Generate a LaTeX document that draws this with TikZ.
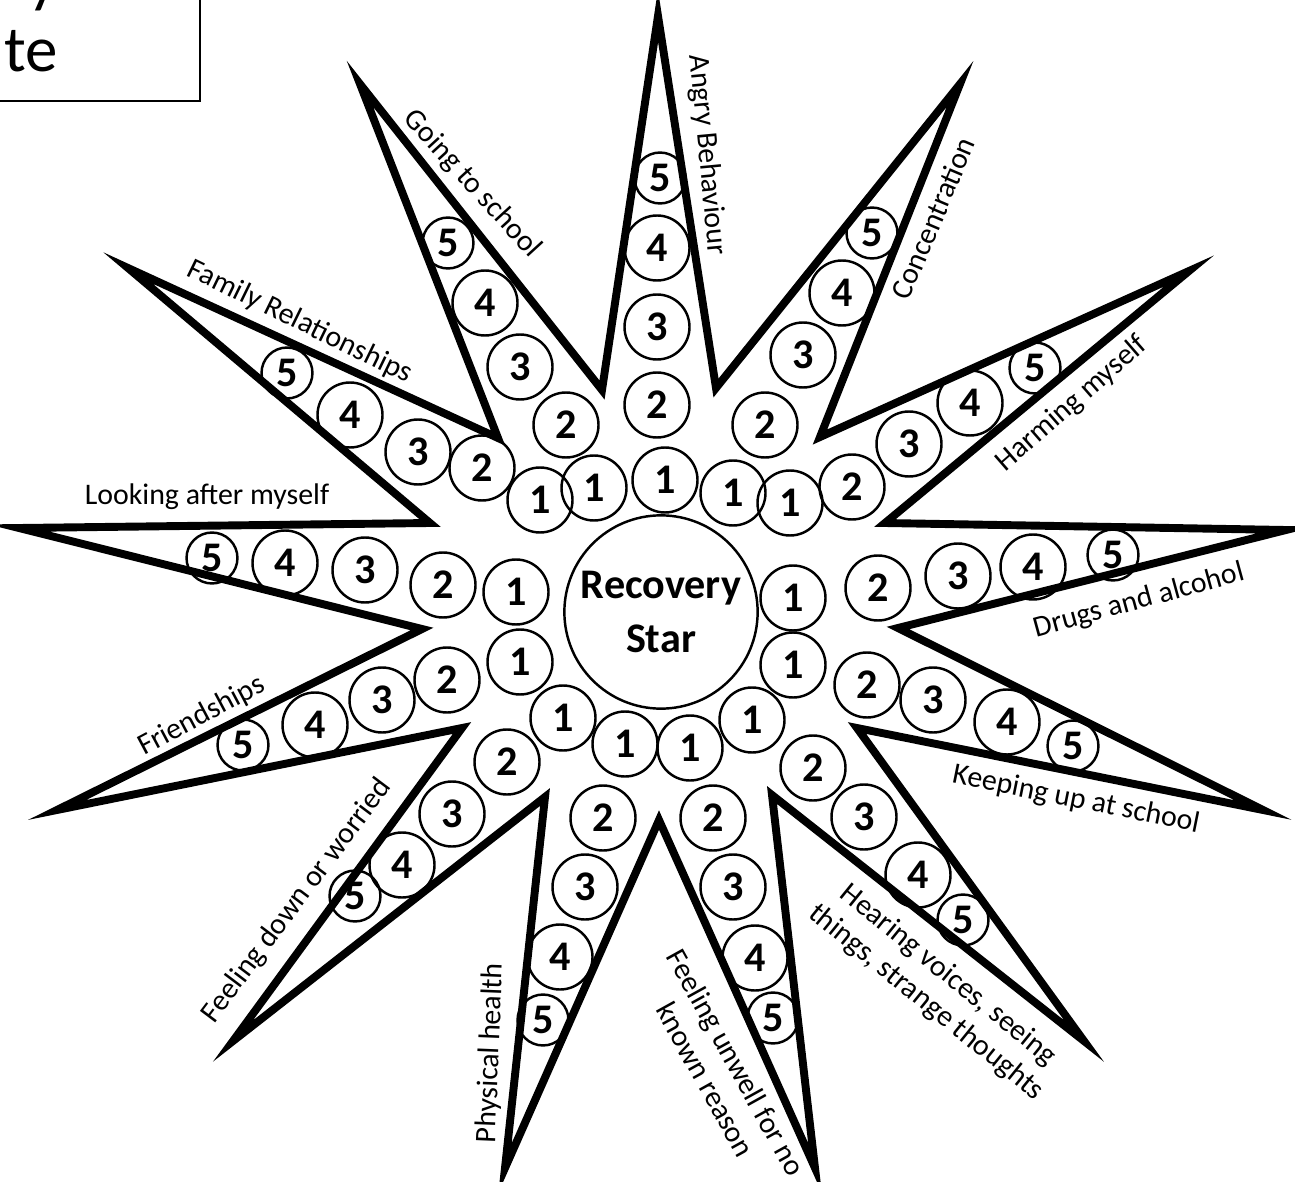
\documentclass[tikz,border=0pt]{standalone}
\usepackage{fontspec}
\setmainfont{Carlito}
\begin{document}
\begin{tikzpicture}[x=0.02cm,y=-0.02cm,
  num/.style={circle,draw,line width=1.4pt,inner sep=0pt,minimum size=37pt,font=\fontsize{24}{24}\selectfont\bfseries},
  numsmall/.style={num,minimum size=29pt},
  lab/.style={font=\fontsize{17}{20}\selectfont,align=center,inner sep=0pt}]
  \useasboundingbox (0,0) rectangle (1295,1182);
  % cut box, top left
  \draw[line width=1pt] (-10,-10) rectangle (200,101);
  \node[font=\fontsize{37}{40}\selectfont,align=right,anchor=south east,inner sep=0pt] (title) at (58,72) {y\\te};
  % the star
  \draw[line width=4.5pt] (658,16) -- (716,388) -- (960,84) -- (820,437) -- (1189,271) -- (885,523)
    -- (1286,530) -- (898,628) -- (1263,810) -- (857,728) -- (1084,1041) -- (772,795)
    -- (815,1168) -- (659,820) -- (505,1168) -- (545,797) -- (233,1041) -- (462,728)
    -- (57,810) -- (422,629) -- (19,528) -- (430,523) -- (128,268) -- (498,438)
    -- (360,84) -- (602,390) -- cycle;
  \node[circle,draw,line width=1.4pt,minimum size=110pt,inner sep=0pt,align=center,
    font=\fontsize{24}{31}\selectfont\bfseries] (centre) at (661,612) {Recovery\\Star};
  % circles, one arm at a time
  \foreach \n/\x/\y in {1/665/480,2/657/405,3/657/327,4/657/248} \node[num] (ang\n) at (\x,\y) {\n};
  \node[numsmall] (ang5) at (660,178) {5};
  \foreach \n/\x/\y in {1/733/493,2/765/425,3/803/355,4/842/293} \node[num] (con\n) at (\x,\y) {\n};
  \node[numsmall] (con5) at (872,233) {5};
  \foreach \n/\x/\y in {1/790/503,2/852/487,3/909/444,4/970/403} \node[num] (har\n) at (\x,\y) {\n};
  \node[numsmall] (har5) at (1035,368) {5};
  \foreach \n/\x/\y in {1/793/598,2/878/588,3/958/576,4/1033/567} \node[num] (dru\n) at (\x,\y) {\n};
  \node[numsmall] (dru5) at (1113,555) {5};
  \foreach \n/\x/\y in {1/793/665,2/867/685,3/933/700,4/1007/722} \node[num] (kee\n) at (\x,\y) {\n};
  \node[numsmall] (kee5) at (1073,746) {5};
  \foreach \n/\x/\y in {1/752/720,2/813/768,3/864/817,4/918/875} \node[num] (hea\n) at (\x,\y) {\n};
  \node[numsmall] (hea5) at (963,920) {5};
  \foreach \n/\x/\y in {1/690/748,2/713/818,3/733/887,4/755/958} \node[num] (unw\n) at (\x,\y) {\n};
  \node[numsmall] (unw5) at (773,1018) {5};
  \foreach \n/\x/\y in {1/625/744,2/603/818,3/585/887,4/560/957} \node[num] (phy\n) at (\x,\y) {\n};
  \node[numsmall] (phy5) at (543,1020) {5};
  \foreach \n/\x/\y in {1/563/718,2/507/762,3/452/814,4/402/865} \node[num] (dow\n) at (\x,\y) {\n};
  \node[numsmall] (dow5) at (355,896) {5};
  \foreach \n/\x/\y in {1/520/662,2/447/680,3/382/700,4/315/725} \node[num] (fri\n) at (\x,\y) {\n};
  \node[numsmall] (fri5) at (243,745) {5};
  \foreach \n/\x/\y in {1/516/592,2/443/585,3/365/570,4/285/563} \node[num] (loo\n) at (\x,\y) {\n};
  \node[numsmall] (loo5) at (212,558) {5};
  \foreach \n/\x/\y in {1/540/500,2/482/468,3/418/452,4/350/415} \node[num] (fam\n) at (\x,\y) {\n};
  \node[numsmall] (fam5) at (287,373) {5};
  \foreach \n/\x/\y in {1/594/488,2/566/425,3/520/367,4/485/303} \node[num] (sch\n) at (\x,\y) {\n};
  \node[numsmall] (sch5) at (448,243) {5};
  % labels along the arms
  \node[lab,rotate=-84.6] (angry) at (707,155) {Angry Behaviour};
  \node[lab,rotate=67] (conc) at (933,218) {Concentration};
  \node[lab,rotate=41] (harm) at (1072,404) {Harming myself};
  \node[lab,rotate=15.3] (drugs) at (1139,601) {Drugs and alcohol};
  \node[lab,rotate=-11.4] (keep) at (1076,800) {Keeping up at school};
  \node[lab,rotate=-39] (hear) at (937,989) {Hearing voices, seeing\\things, strange thoughts};
  \node[lab,rotate=-61] (unwell) at (721,1071) {Feeling unwell for no\\known reason};
  \node[lab,rotate=87.7] (phys) at (491,1053) {Physical health};
  \node[lab,rotate=53] (down) at (297,901) {Feeling down or worried};
  \node[lab,rotate=28] (friend) at (202,716) {Friendships};
  \node[lab] (look) at (207,497) {Looking after myself};
  \node[lab,rotate=-26] (family) at (300,322) {Family Relationships};
  \node[lab,rotate=-47.6] (school) at (472,184) {Going to school};
\end{tikzpicture}
\end{document}
